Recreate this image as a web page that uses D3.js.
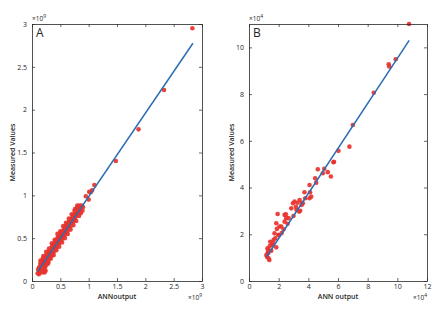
<!DOCTYPE html>
<html><head><meta charset="utf-8">
<script src="https://cdn.jsdelivr.net/npm/d3@7"></script>
<style>body{margin:0;background:#fff}svg{display:block}text{font-family:"Open Sans","Liberation Sans",sans-serif;fill:#262626}</style>
</head><body><svg id="c" width="441" height="312"></svg>
<script>
// Panel A (x10^9)
const aTicks = [0,0.5,1,1.5,2,2.5,3];
const aTickLabels = ["0","0.5","1","1.5","2","2.5","3"];
const aX = [0.10,0.11,0.12,0.13,0.14,0.15,0.16,0.17,0.18,0.19,0.20,0.20,0.21,0.22,0.23,0.24,0.25,0.25,0.26,0.27,0.28,0.29,0.30,0.30,0.31,0.32,0.33,0.34,0.35,0.35,0.36,0.37,0.38,0.39,0.40,0.40,0.41,0.42,0.43,0.44,0.45,0.45,0.46,0.47,0.48,0.49,0.50,0.50,0.51,0.52,0.53,0.54,0.55,0.55,0.56,0.57,0.58,0.59,0.60,0.60,0.61,0.62,0.63,0.64,0.65,0.65,0.66,0.67,0.68,0.69,0.70,0.70,0.71,0.72,0.73,0.74,0.75,0.76,0.77,0.78,0.79,0.80,0.80,0.82,0.83,0.84,0.85,0.86,0.88,0.90,0.89,0.76,0.22,0.24,0.15,0.19,0.27,0.33,0.38,0.43,0.48,0.53,0.58,0.63,0.68,0.73,0.12,0.17,
  0.15,0.20,0.25,0.30,0.35,0.40,0.45,0.50,0.55,0.60,0.65,0.70,0.75,0.80,0.18,0.23,0.28,0.33,0.38,0.43,0.48,0.53,0.58,0.63,0.68,0.73,0.78,0.83,0.86,
  0.95,1.00,1.01,1.04,1.06,1.10,1.48,1.88,2.33,2.83];
const aY = [0.09,0.13,0.08,0.16,0.11,0.19,0.13,0.10,0.22,0.17,0.14,0.25,0.20,0.11,0.27,0.18,0.23,0.30,0.21,0.32,0.25,0.22,0.33,0.28,0.35,0.27,0.31,0.37,0.30,0.40,0.34,0.42,0.33,0.39,0.44,0.36,0.41,0.47,0.39,0.44,0.50,0.42,0.47,0.52,0.44,0.49,0.54,0.47,0.51,0.57,0.49,0.54,0.59,0.52,0.56,0.61,0.54,0.59,0.64,0.57,0.61,0.66,0.59,0.64,0.69,0.62,0.66,0.71,0.64,0.69,0.73,0.67,0.70,0.75,0.69,0.73,0.78,0.72,0.77,0.84,0.76,0.80,0.86,0.79,0.83,0.88,0.81,0.85,0.88,0.86,0.82,0.84,0.10,0.12,0.21,0.26,0.29,0.36,0.41,0.46,0.51,0.56,0.62,0.67,0.72,0.77,0.15,0.20,
  0.24,0.29,0.34,0.38,0.44,0.48,0.55,0.58,0.64,0.68,0.73,0.78,0.82,0.88,0.12,0.16,0.20,0.26,0.30,0.36,0.40,0.45,0.50,0.55,0.60,0.65,0.70,0.76,0.79,
  0.99,0.95,1.04,1.04,1.06,1.12,1.40,1.77,2.23,2.95];
const aFitX = [0.10,2.84];
const aFitY = [0.11,2.775];

// Panel B (x10^4)
const bXTicks = [0,2,4,6,8,10,12];
const bYTicks = [0,2,4,6,8,10];
const bX = [1.21,1.37,1.17,1.28,1.43,1.50,1.57,1.66,1.72,1.84,1.88,1.99,1.93,2.06,2.17,2.33,2.40,2.49,2.51,2.67,2.85,2.96,3.00,3.07,3.16,3.27,3.38,3.41,3.45,3.57,3.63,3.74,3.79,4.08,4.12,4.19,4.08,4.46,4.53,4.64,4.98,5.07,5.31,5.52,5.69,5.73,6.03,6.77,7.00,8.41,9.42,9.45,9.89,10.79,1.25,1.32,1.99,1.77,2.40,1.84,1.25,1.60,2.20,2.60,3.20,3.55,1.40,1.30];
const bY = [1.04,0.90,1.11,1.33,1.68,1.30,1.54,1.76,2.04,1.44,2.23,1.97,2.87,2.33,2.33,2.21,2.83,2.86,2.69,2.69,3.11,3.33,2.78,3.40,3.18,3.35,2.97,3.47,3.01,3.35,3.33,3.80,3.54,4.11,3.80,3.61,3.54,4.40,4.21,4.78,4.61,4.80,4.66,4.47,5.08,5.10,5.57,5.75,6.68,8.06,9.28,9.18,9.49,11.0,1.40,0.97,1.97,1.83,2.54,2.47,1.20,1.62,2.05,2.45,3.05,3.25,1.50,1.20];
const bFitX = [1.2,10.8];
const bFitY = [1.05,10.3];

const svg = d3.select("#c");
const red = "#e8332c", blue = "#2b6cb3", axc = "#262626";

function panel(o){
  const g = svg.append("g");
  const x = d3.scaleLinear().domain(o.xd).range([o.l,o.r]);
  const y = d3.scaleLinear().domain(o.yd).range([o.b,o.t]);
  g.append("g").selectAll("circle").data(o.px.map((v,i)=>[v,o.py[i]])).join("circle")
    .attr("cx",d=>x(d[0])).attr("cy",d=>y(d[1])).attr("r",2.3).attr("fill",red).attr("fill-opacity",0.92);
  g.append("line").attr("x1",x(o.fx[0])).attr("y1",y(o.fy[0])).attr("x2",x(o.fx[1])).attr("y2",y(o.fy[1]))
    .attr("stroke",blue).attr("stroke-width",1.5);
  const ax = (gen,tr)=>{const a=g.append("g").attr("transform",tr).call(gen);
    a.select(".domain").attr("stroke",axc).attr("stroke-width",0.8);
    a.selectAll(".tick line").attr("stroke",axc).attr("stroke-width",0.7);
    a.selectAll("text").attr("font-size",7).style("fill",axc); return a;};
  ax(d3.axisBottom(x).tickValues(o.xt).tickFormat((d,i)=>o.xl[i]).tickSizeInner(-3).tickSizeOuter(0).tickPadding(3),`translate(0,${o.b})`);
  ax(d3.axisLeft(y).tickValues(o.yt).tickFormat((d,i)=>o.yl[i]).tickSizeInner(-3).tickSizeOuter(0).tickPadding(5),`translate(${o.l},0)`);
  ax(d3.axisTop(x).tickValues(o.xt).tickFormat("").tickSizeInner(-3).tickSizeOuter(0),`translate(0,${o.t})`);
  ax(d3.axisRight(y).tickValues(o.yt).tickFormat("").tickSizeInner(-3).tickSizeOuter(0),`translate(${o.r},0)`);
  g.append("text").attr("x",(o.l+o.r)/2).attr("y",299).attr("text-anchor","middle").attr("font-size",7).attr("font-weight",600).text(o.xlab);
  g.append("text").attr("transform",`translate(${o.yx},${(o.t+o.b)/2}) rotate(-90)`).attr("text-anchor","middle").attr("font-size",7).attr("font-weight",600).text("Measured Values");
  const ex=(tx,ty,anchor)=>{const t=g.append("text").attr("x",tx).attr("y",ty).attr("text-anchor",anchor).attr("font-size",6.5);
    t.append("tspan").text("×10"); t.append("tspan").attr("dy",-3).attr("font-size",5).text(o.exp);};
  ex(o.l,21,"start"); ex(o.r,300,"end");
  g.append("text").attr("x",o.l+4).attr("y",o.t+13).attr("font-size",12).attr("font-weight",500).text(o.letter);
}

panel({xd:[0,3],yd:[0,3],l:32,r:202,t:24,b:281,px:aX,py:aY,fx:aFitX,fy:aFitY,
  xt:aTicks,xl:aTickLabels,yt:aTicks,yl:aTickLabels,xlab:"ANNoutput",yx:15,exp:"9",letter:"A"});
panel({xd:[0,12],yd:[0,11],l:249,r:427,t:24,b:281,px:bX,py:bY,fx:bFitX,fy:bFitY,
  xt:bXTicks,xl:bXTicks.map(String),yt:bYTicks,yl:bYTicks.map(String),xlab:"ANN output",yx:234,exp:"4",letter:"B"});
</script></body></html>
